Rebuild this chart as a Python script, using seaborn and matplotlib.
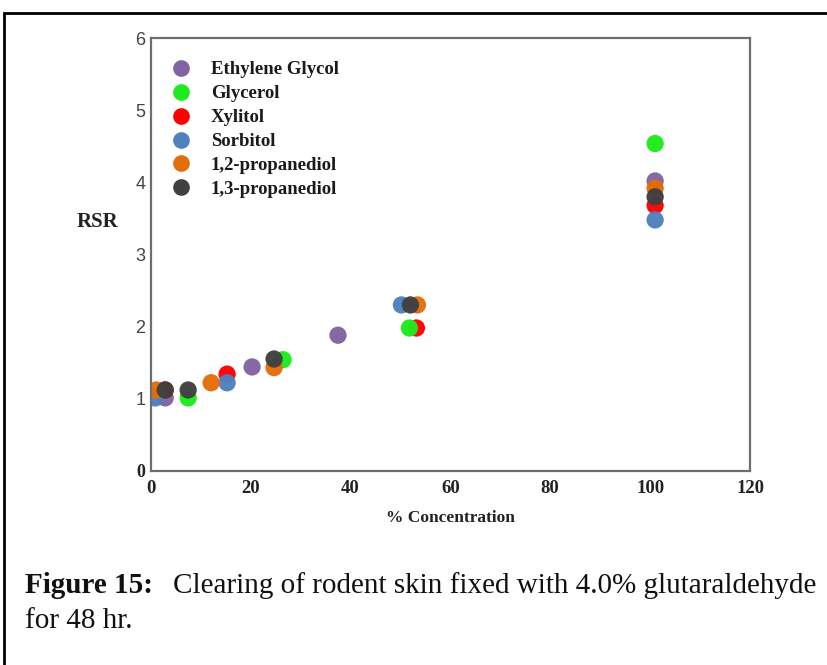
import matplotlib
matplotlib.use("Agg")
import matplotlib.pyplot as plt
from matplotlib.patches import Rectangle
from matplotlib.lines import Line2D
import seaborn as sns
import pandas as pd

# Relative sample rating (RSR) of cleared skin versus clearing-agent concentration
ethylene_glycol_x = [2.9, 20.3, 37.5, 101]
ethylene_glycol_y = [1.01, 1.44, 1.88, 4.02]
glycerol_x = [7.5, 26.5, 51.8, 101]
glycerol_y = [1.01, 1.54, 1.98, 4.54]
xylitol_x = [2.9, 15.3, 53.2, 101]
xylitol_y = [1.12, 1.34, 1.98, 3.68]
sorbitol_x = [0.9, 15.3, 50.2, 101]
sorbitol_y = [1.01, 1.22, 2.30, 3.48]
propanediol_12_x = [1.1, 12.1, 24.7, 53.4, 101]
propanediol_12_y = [1.12, 1.22, 1.43, 2.30, 3.92]
propanediol_13_x = [2.9, 7.5, 24.7, 52.0, 101]
propanediol_13_y = [1.12, 1.12, 1.55, 2.30, 3.80]

legend_order = ["Ethylene Glycol", "Glycerol", "Xylitol", "Sorbitol",
                "1,2-propanediol", "1,3-propanediol"]
colors = ["#8064A2", "#1EEB1E", "#FF0000", "#4F81BD", "#E46C0A", "#404040"]

series = {
    "Ethylene Glycol": (ethylene_glycol_x, ethylene_glycol_y),
    "Xylitol": (xylitol_x, xylitol_y),
    "Glycerol": (glycerol_x, glycerol_y),
    "Sorbitol": (sorbitol_x, sorbitol_y),
    "1,2-propanediol": (propanediol_12_x, propanediol_12_y),
    "1,3-propanediol": (propanediol_13_x, propanediol_13_y),
}
rows = []
for name, (xs, ys) in series.items():
    for x, y in zip(xs, ys):
        rows.append({"conc": x, "rsr": y, "agent": name})
df = pd.DataFrame(rows)

sns.set_style("white")
serif = ["Liberation Serif", "DejaVu Serif"]
palette = dict(zip(legend_order, colors))

fig = plt.figure(figsize=(8.28, 6.65), dpi=100)
ax = fig.add_axes([150.7 / 828, 1 - 470.7 / 665, (750 - 150.7) / 828, (470.7 - 38.3) / 665])

sns.scatterplot(data=df, x="conc", y="rsr", hue="agent", hue_order=legend_order,
                palette=palette, s=155, edgecolor="none", linewidth=0, alpha=0.97,
                legend=False, ax=ax)

ax.set_xlim(0, 120)
ax.set_ylim(0, 6)
ax.set_xticks(range(0, 121, 20))
ax.set_yticks(range(0, 7))

for sp in ax.spines.values():
    sp.set_color("#6E6E6E")
    sp.set_linewidth(1.6)
    sp.set_visible(True)

ax.tick_params(axis="both", direction="in", length=5, width=1.2, color="#6E6E6E")
ax.tick_params(axis="x", pad=7)
ax.tick_params(axis="y", pad=4)

ax.set_xticklabels([str(v) for v in range(0, 121, 20)],
                   fontfamily=serif, fontweight="bold", fontsize=13.5, color="#222222")
ylabels = ax.set_yticklabels([str(v) for v in range(0, 7)],
                             fontfamily=["Liberation Sans", "DejaVu Sans"],
                             fontsize=13, color="#444444")
ylabels[0].set_fontfamily(serif)
ylabels[0].set_fontweight("bold")
ylabels[0].set_color("#222222")

ax.set_xlabel("% Concentration", fontfamily=serif, fontweight="bold",
              fontsize=12.5, labelpad=9, color="#222222")
ax.set_ylabel("")
fig.text(98 / 828, 1 - 222 / 665, "RSR", fontfamily=serif, fontweight="bold",
         fontsize=15, ha="center", va="center", color="#222222")

handles = [Line2D([], [], marker="o", linestyle="none", markersize=12,
                  markerfacecolor=palette[n], markeredgecolor="none") for n in legend_order]
leg = ax.legend(handles, legend_order, loc="upper left",
                bbox_to_anchor=(0.0, 1.0 - 4 / 432.4), frameon=False,
                prop={"family": serif, "weight": "bold", "size": 13.5},
                handletextpad=1.0, labelspacing=0.365, borderaxespad=0.0,
                handlelength=1.2, borderpad=1.0)
for t in leg.get_texts():
    t.set_color("#1A1A1A")

# Caption below the chart
fig.text(25 / 828, 1 - 593 / 665, "Figure 15:", fontfamily=serif, fontweight="bold",
         fontsize=21, ha="left", va="baseline", color="#111111")
fig.text(173 / 828, 1 - 593 / 665, "Clearing of rodent skin fixed with 4.0% glutaraldehyde",
         fontfamily=serif, fontsize=21, ha="left", va="baseline", color="#111111")
fig.text(25 / 828, 1 - 628 / 665, "for 48 hr.", fontfamily=serif,
         fontsize=21, ha="left", va="baseline", color="#111111")

# Outer frame around the figure panel
fig.patches.append(Rectangle((4.5 / 828, -0.1), 1.2, 1 - 12.5 / 665 + 0.1,
                             transform=fig.transFigure, fill=False,
                             edgecolor="black", linewidth=2, clip_on=False))

fig.savefig("out.png", dpi=100)
